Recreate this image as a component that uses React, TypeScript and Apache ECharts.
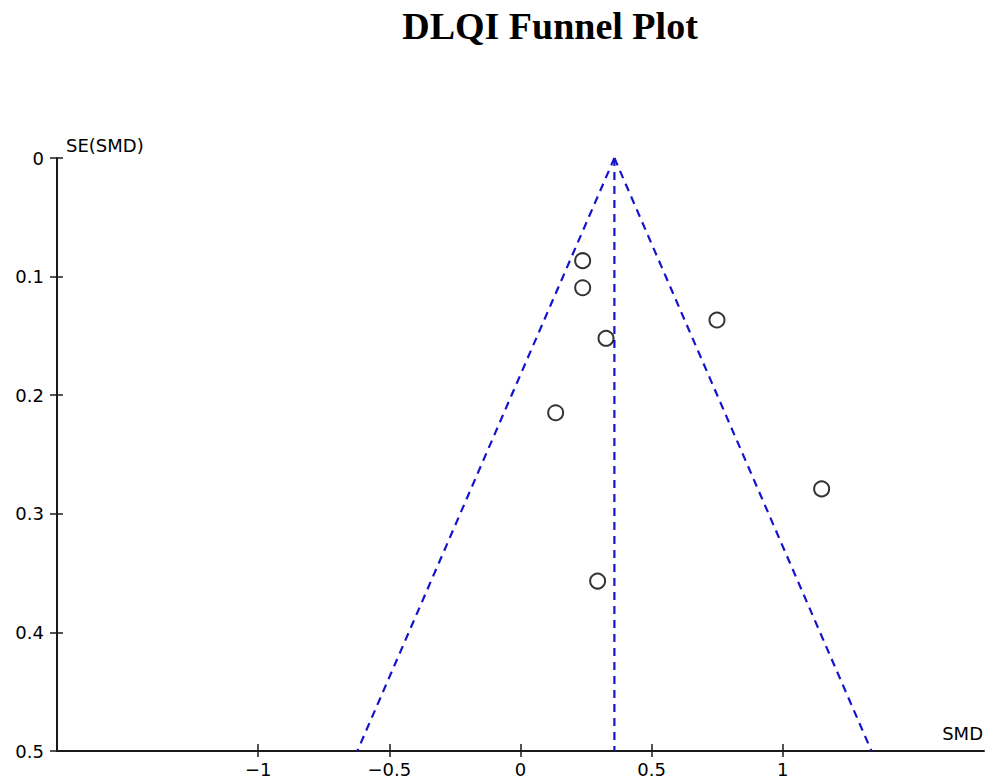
import React, { useEffect, useRef } from "react";
import * as echarts from "echarts";

// Study points: [SMD, SE(SMD)]
const studySMD = [0.237, 0.237, 0.749, 0.326, 0.134, 1.148, 0.294];
const studySE = [0.0866, 0.1094, 0.1366, 0.152, 0.2148, 0.279, 0.3567];

// Funnel (95% limits) and pooled-estimate line end points
const funnelLeft = [[0.358, 0], [-0.622, 0.5]];
const funnelRight = [[0.358, 0], [1.338, 0.5]];
const pooledLine = [[0.358, 0], [0.358, 0.5]];

const xTicks = [-1, -0.5, 0, 0.5, 1];

const X_MIN = -1.767;
const X_MAX = 1.767;

export default function App() {
  const ref = useRef<HTMLDivElement>(null);

  useEffect(() => {
    if (!ref.current) return;
    const chart = echarts.init(ref.current, null, { renderer: "svg" });
    const axisColor = "#1a1a1a";
    const labelFont = "DejaVu Sans";
    const fmtX = (v: number) => String(v).replace("-", "\u2212");
    const dashStyle = {
      color: "#1414cc",
      width: 2.2,
      type: [8, 6] as any,
    };
    chart.setOption({
      animation: false,
      backgroundColor: "#ffffff",
      title: {
        text: "DLQI Funnel Plot",
        left: 545,
        top: 2,
        textAlign: "center",
        textStyle: {
          fontFamily: "Liberation Serif",
          fontWeight: "bold",
          fontSize: 38,
          color: "#000",
        },
      },
      grid: { left: 57, right: 8, top: 158, bottom: 29, containLabel: false },
      xAxis: [
        {
          type: "value",
          min: X_MIN,
          max: X_MAX,
          position: "bottom",
          axisLine: { onZero: false, lineStyle: { color: axisColor, width: 2 } },
          axisTick: {
            show: true,
            inside: false,
            length: 6,
            customValues: xTicks,
            lineStyle: { color: axisColor, width: 1.5 },
          },
          axisLabel: {
            customValues: xTicks,
            formatter: (v: number) => fmtX(v),
            fontFamily: labelFont,
            fontSize: 18,
            color: "#000",
            margin: 9,
          },
          splitLine: { show: false },
        },
        {
          type: "value",
          min: X_MIN,
          max: X_MAX,
          position: "bottom",
          axisLine: { show: false, onZero: false },
          axisTick: {
            show: true,
            inside: true,
            length: 7,
            customValues: xTicks,
            lineStyle: { color: axisColor, width: 1.5 },
          },
          axisLabel: { show: false },
          splitLine: { show: false },
        },
      ],
      yAxis: [
        {
          type: "value",
          min: 0,
          max: 0.5,
          interval: 0.1,
          inverse: true,
          position: "left",
          axisLine: { onZero: false, lineStyle: { color: axisColor, width: 2 } },
          axisTick: {
            show: true,
            inside: false,
            length: 7,
            lineStyle: { color: axisColor, width: 1.5 },
          },
          axisLabel: {
            fontFamily: labelFont,
            fontSize: 18,
            color: "#000",
            margin: 13,
            formatter: (v: number) => String(Math.round(v * 10) / 10),
          },
          splitLine: { show: false },
        },
        {
          type: "value",
          min: 0,
          max: 0.5,
          interval: 0.1,
          inverse: true,
          position: "left",
          axisLine: { show: false, onZero: false },
          axisTick: {
            show: true,
            inside: true,
            length: 6,
            lineStyle: { color: axisColor, width: 1.5 },
          },
          axisLabel: { show: false },
          splitLine: { show: false },
        },
      ],
      graphic: [
        {
          type: "text",
          left: 66,
          top: 136,
          style: {
            text: "SE(SMD)",
            font: `18px "${labelFont}"`,
            fill: "#000",
          },
        },
        {
          type: "text",
          right: 9,
          top: 724,
          style: {
            text: "SMD",
            font: `18px "${labelFont}"`,
            fill: "#000",
          },
        },
      ],
      series: [
        {
          type: "line",
          data: funnelLeft,
          symbol: "none",
          lineStyle: dashStyle,
          z: 2,
        },
        {
          type: "line",
          data: funnelRight,
          symbol: "none",
          lineStyle: dashStyle,
          z: 2,
        },
        {
          type: "line",
          data: pooledLine,
          symbol: "none",
          lineStyle: dashStyle,
          z: 2,
        },
        {
          type: "scatter",
          data: studySMD.map((x, i) => [x, studySE[i]]),
          symbol: "circle",
          symbolSize: 15,
          itemStyle: {
            color: "rgba(255,255,255,0)",
            borderColor: "#000",
            borderWidth: 2,
          },
          z: 3,
        },
      ],
    });
    return () => chart.dispose();
  }, []);

  return (
    <div
      ref={ref}
      style={{ position: "absolute", left: 0, top: 0, width: 992, height: 780 }}
    />
  );
}
